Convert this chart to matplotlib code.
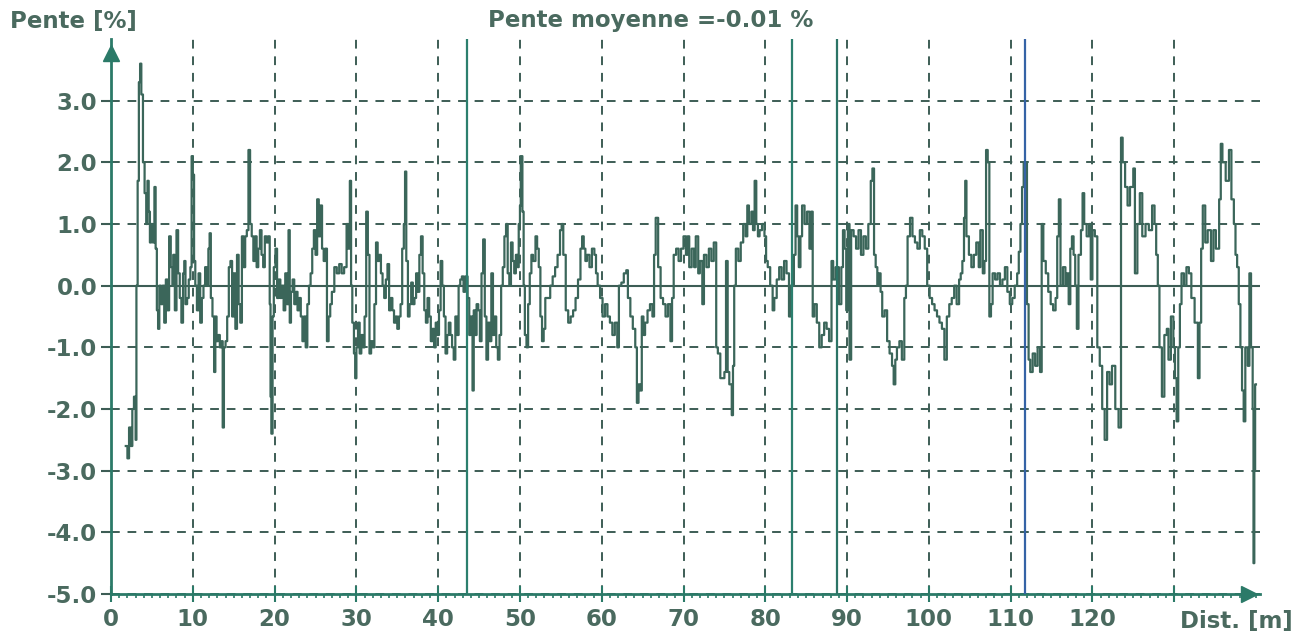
import matplotlib.pyplot as plt
from matplotlib.ticker import FixedLocator, MultipleLocator

# distance [m] and slope [%] (step trace)
dist = [
    1.8, 2.0, 2.2, 2.4, 2.6, 2.8, 3.0, 3.1, 3.25, 3.4, 3.55, 3.7, 3.9, 4.1, 4.3, 4.45, 4.6, 4.75, 4.9,
    5.1, 5.3, 5.45, 5.6, 5.75, 5.9, 6.1, 6.3, 6.5, 6.7, 6.9, 7.1, 7.3, 7.5, 7.6, 7.8, 8.0, 8.2, 8.4,
    8.6, 8.8, 8.95, 9.1, 9.3, 9.5, 9.7, 9.85, 10.0, 10.15, 10.3, 10.5, 10.7, 10.9, 11.1, 11.3, 11.5,
    11.7, 11.9, 12.05, 12.2, 12.4, 12.6, 12.75, 12.9, 13.1, 13.3, 13.5, 13.65, 13.8, 14.0, 14.2, 14.4,
    14.6, 14.8, 15.0, 15.2, 15.4, 15.6, 15.8, 16.0, 16.2, 16.4, 16.6, 16.8, 17.0, 17.2, 17.4, 17.6,
    17.8, 18.0, 18.2, 18.4, 18.6, 18.8, 19.0, 19.2, 19.4, 19.5, 19.6, 19.75, 19.9, 20.1, 20.3, 20.5,
    20.7, 20.9, 21.1, 21.3, 21.5, 21.7, 21.85, 22.0, 22.2, 22.4, 22.6, 22.8, 23.0, 23.2, 23.4, 23.6,
    23.8, 24.0,
    24.2, 24.4, 24.6, 24.8, 25.0, 25.2, 25.4, 25.6, 25.8, 26.0, 26.2, 26.4, 26.6, 26.8, 27.0, 27.3,
    27.6, 27.9, 28.2, 28.5, 28.8, 29.0, 29.2, 29.35, 29.5, 29.7, 29.85, 30.0, 30.2, 30.4, 30.6, 30.8,
    31.0, 31.2, 31.4, 31.6, 31.8, 32.0, 32.2, 32.4, 32.6, 32.8, 33.0, 33.2, 33.4, 33.6, 33.8, 34.0,
    34.2, 34.4, 34.6, 34.8, 35.0, 35.2, 35.4, 35.6, 35.8, 35.95, 36.1, 36.3, 36.5, 36.7, 36.9, 37.1,
    37.3, 37.5, 37.7, 37.9, 38.1, 38.3, 38.5, 38.7, 38.9, 39.1, 39.3, 39.5, 39.7, 39.9, 40.1, 40.3,
    40.5, 40.7, 40.9, 41.1, 41.3, 41.5, 41.7, 41.9, 42.1, 42.3, 42.5, 42.7, 42.9, 43.1, 43.3, 43.6,
    43.8, 44.0, 44.2, 44.35, 44.5, 44.7, 44.9, 45.1, 45.3, 45.5, 45.7, 45.9, 46.1, 46.3, 46.5, 46.7,
    46.9,
    47.1, 47.3, 47.5, 47.7, 47.9, 48.1, 48.3, 48.5, 48.7, 48.9, 49.1, 49.3, 49.5, 49.7, 49.85, 50.0,
    50.1, 50.3, 50.45, 50.6, 50.8, 51.0, 51.2, 51.4, 51.6, 51.9, 52.1, 52.3, 52.5, 52.7, 52.9, 53.1,
    53.4, 53.7, 54.0, 54.3, 54.6, 54.9, 55.1, 55.3, 55.6, 55.9, 56.2, 56.5, 56.8, 57.1, 57.4, 57.6,
    57.8, 58.0, 58.2, 58.5, 58.8, 59.1, 59.3, 59.5, 59.8, 60.1, 60.4, 60.7, 61.0, 61.3, 61.6, 61.9,
    62.1, 62.4, 62.7, 63.0, 63.2, 63.5, 63.8, 64.1, 64.3, 64.5, 64.7, 64.9, 65.1, 65.3, 65.6, 65.9,
    66.2, 66.4, 66.6, 66.9, 67.2, 67.5, 67.8, 68.1, 68.4, 68.6, 68.8, 69.1, 69.4, 69.7, 70.0,
    70.3, 70.5, 70.7, 71.0, 71.3, 71.5, 71.8, 72.0, 72.3, 72.5, 72.8, 73.1, 73.4, 73.7, 74.0, 74.2,
    74.5, 74.8, 75.0, 75.2, 75.4, 75.6, 75.9, 76.05, 76.2, 76.4, 76.7, 77.0, 77.3, 77.6, 77.8, 78.0,
    78.3, 78.5, 78.7, 78.9, 79.1, 79.3, 79.6, 79.9, 80.1, 80.3, 80.6, 80.9, 81.1, 81.4, 81.7, 82.0,
    82.3, 82.6, 82.9, 83.1, 83.5, 83.7, 83.9, 84.1, 84.3, 84.5, 84.8, 85.1, 85.4, 85.6, 85.8, 86.0,
    86.3, 86.6, 86.9, 87.2, 87.5, 87.8, 88.1, 88.3, 88.6, 89.0, 89.3, 89.5, 89.7, 89.9, 90.1, 90.3,
    90.5, 90.8, 91.1, 91.4, 91.7, 92.0, 92.3, 92.6, 92.9, 93.1, 93.3, 93.5, 93.7,
    93.9, 94.1, 94.3, 94.6, 94.9, 95.2, 95.5, 95.7, 95.9, 96.1, 96.4, 96.7, 97.0, 97.2, 97.4, 97.7,
    98.0, 98.3, 98.6, 98.9, 99.2, 99.5, 99.8, 100.1, 100.4, 100.7, 101.0, 101.3, 101.6, 101.9, 102.2,
    102.5, 102.8, 103.1, 103.4, 103.7, 103.9, 104.1, 104.3, 104.45, 104.6, 104.9, 105.2, 105.5, 105.8,
    106.1, 106.3, 106.6, 106.8, 107.0, 107.2, 107.4, 107.6, 107.8, 108.1, 108.4, 108.7, 109.0, 109.3,
    109.6, 109.9, 110.2, 110.5, 110.8, 111.0, 111.2, 111.4, 111.6, 112.0, 112.2, 112.4, 112.7, 113.0,
    113.3, 113.6, 113.8, 114.0, 114.3, 114.6, 114.9, 115.2, 115.5, 115.7, 115.9, 116.1, 116.4,
    116.7, 116.9, 117.1, 117.3, 117.5, 117.7, 117.9, 118.1, 118.3, 118.6, 118.8, 119.0, 119.3, 119.6,
    119.8, 120.0, 120.3, 120.6, 120.9, 121.2, 121.5, 121.8, 122.1, 122.4, 122.8, 123.2, 123.5, 123.7,
    124.0, 124.3, 124.6, 125.0, 125.2, 125.5, 125.8, 126.1, 126.5, 126.9, 127.3, 127.6, 127.8, 128.0,
    128.2, 128.5, 128.8, 129.1, 129.3, 129.6, 129.9, 130.1, 130.3, 130.5, 130.7, 130.9, 131.2, 131.5,
    131.8, 132.1, 132.5, 132.9, 133.1, 133.3, 133.5, 133.8, 134.1, 134.5, 134.8, 135.1, 135.5, 135.7,
    135.9, 136.3, 136.7, 137.0, 137.3, 137.5, 137.7, 137.9, 138.1, 138.3, 138.5, 138.7, 139.0, 139.2,
    139.4, 139.6, 139.7, 139.8, 139.9, 140.0,
]
pente = [
    -2.6, -2.8, -2.3, -2.6, -2.0, -1.8, -2.5, 0.0, 1.7, 3.3, 3.6, 3.1, 2.0, 1.5, 1.0, 1.7, 1.2, 0.7, 1.0,
    0.7, 1.6, 0.6, -0.4, -0.7, 0.0, -0.3, 0.0, -0.6, 0.1, -0.4, 0.8, 0.3, 0.0, 0.5, -0.4, 0.9, 0.2, -0.2,
    -0.6, 0.2, 0.4, -0.3, -0.2, 0.1, 0.3, 2.1, 1.8, 0.4, 0.0, -0.4, 0.2, -0.6, -0.2, 0.0, 0.3,
    0.0, 0.6, 0.85, -0.2, -0.5, -1.4, -0.5, -0.9, -0.8, -1.0, -0.9, -2.3, -1.0, -0.9, -0.5, 0.3,
    0.4, -0.5, 0.2, -0.7, 0.5, -0.3, -0.6, 0.8, 0.3, 0.8, 0.9, 2.2, 1.0, 0.8, 0.4, 0.8,
    0.3, 0.6, 0.9, 0.5, 0.3, 0.8, 0.7, 0.8, -0.3, -1.8, -2.4, -0.5, 0.3, 0.6, -0.2, 0.1,
    -0.2, 0.0, -0.4, 0.2, -0.3, 0.9, -0.6, -0.1, 0.1, -0.3, -0.1, -0.4, -0.2, -0.5, -0.9, -0.5,
    -1.0, -0.3,
    0.0, 0.2, 0.6, 0.9, 0.5, 1.4, 0.8, 1.3, 0.6, 0.4, 0.6, -0.9, -0.5, -0.3, -0.1, 0.3,
    0.2, 0.35, 0.2, 0.3, 1.0, 0.6, 1.7, 0.0, -0.6, -1.1, -1.5, -1.0, -0.6, -1.1, -0.8, -1.0,
    -0.5, 1.2, 0.5, -1.1, -0.9, -1.0, -0.3, 0.7, 0.4, 0.5, 0.2, 0.0, -0.2, 0.1, 0.35, -0.4,
    -0.2, -0.4, -0.6, -0.5, -0.7, -0.5, -0.3, 0.6, 1.0, 1.85, 0.4, -0.5, -0.3, 0.05, -0.3, -0.2,
    0.2, -0.1, 0.5, 0.8, 0.2, -0.4, -0.6, -0.2, -0.5, -0.9, -0.7, -1.0, -0.6, -0.8, -0.4, 0.4,
    0.0, -0.5, -1.1, -0.8, -0.6, -0.8, -1.0, -1.2, -0.5, -0.8, 0.0, 0.1, 0.15, -0.1, 0.15, -0.2,
    -0.8, -0.5, -1.7, -0.4, -0.8, -0.3, -0.4, -0.9, 0.2, 0.75, -0.5, -1.2, -0.6, -0.9, 0.2, -0.8,
    -0.5,
    -1.0, -1.2, -0.8, 0.0, 0.3, 0.8, 1.0, 0.2, 0.0, 0.7, 0.4, 0.2, 0.5, 0.3, 1.0, 1.3,
    2.1, 1.2, 0.0, -0.8, -1.0, -0.3, 0.2, 0.5, 0.4, 0.8, 0.6, 0.3, -0.5, -0.9, -0.7, -0.2,
    -0.2, 0.0, 0.15, 0.3, 0.5, 0.9, 1.0, 0.5, -0.4, -0.6, -0.5, -0.4, -0.2, 0.1, 0.6, 0.8,
    0.6, 0.4, 0.5, 0.3, 0.6, 0.5, 0.2, 0.0, -0.2, -0.5, -0.3, -0.5, -0.6, -0.8, -0.6, -1.0,
    0.0, 0.05, 0.2, 0.25, -0.2, -0.5, -0.7, -1.0, -1.9, -1.6, -1.7, -0.5, -0.8, -0.6, -0.4, -0.3,
    -0.5, 0.5, 1.1, 0.3, -0.2, -0.3, -0.5, -0.3, -0.9, -0.2, 0.5, 0.6, 0.4, 0.6, 0.8,
    0.5, 0.8, 0.3, 0.6, 0.3, 0.8, 0.2, 0.4, -0.3, 0.5, 0.3, 0.6, 0.4, 0.7, -1.0, -1.1,
    -1.5, -1.5, -1.4, 0.4, -1.4, -1.6, -2.1, -1.3, 0.0, 0.6, 0.4, 0.7, 1.0, 0.8, 1.3, 1.0,
    1.2, 0.9, 1.7, 1.0, 0.8, 0.9, 1.0, 0.8, 0.4, 0.3, 0.0, -0.4, -0.2, 0.1, 0.3, 0.1,
    0.4, 0.2, -0.5, 0.0, 0.5, 1.3, 0.8, 0.3, 0.8, 1.3, 1.0, 1.2, 0.6, 1.2, -0.5, -0.3,
    -0.6, -1.0, -0.8, -0.6, -0.7, -0.9, 0.4, 0.1, 0.3, -0.3, 0.3, 0.9, 0.6, -0.4, 1.0, -1.2,
    0.9, 0.8, 0.6, 0.9, 0.5, 0.8, 0.6, 1.0, 1.7, 1.9, 0.5, 0.3, 0.0,
    0.2, -0.1, -0.5, -0.4, -0.9, -1.1, -1.3, -1.6, -1.2, -1.0, -0.9, -1.2, -0.2, 0.0, 0.8, 1.1,
    0.8, 0.7, 0.6, 0.9, 0.8, 0.6, 0.0, -0.2, -0.3, -0.4, -0.5, -0.6, -0.7, -1.2, -0.5,
    -0.3, -0.2, 0.0, -0.3, 0.1, 0.2, 0.4, 1.1, 1.7, 0.8, 0.5, 0.3, 0.5, 0.7,
    0.3, 0.9, 0.2, 0.4, 2.2, 2.0, -0.5, -0.3, 0.2, 0.1, 0.2, 0.0, 0.1, 0.3,
    -0.1, -0.3, -0.2, 0.0, 0.2, 0.55, 1.0, 1.6, 2.0, -0.3, -1.2, -1.4, -1.1, -1.3,
    -1.0, -1.4, 1.0, 0.4, 0.2, -0.1, -0.3, -0.4, -0.2, 0.8, 1.4, 0.0, 0.3,
    0.0, 0.2, -0.3, 0.6, 0.8, 0.5, 0.0, -0.7, 0.5, 0.9, 1.5, 1.0, 0.8, 1.0,
    0.1, 0.9, 0.8, -1.0, -1.3, -2.0, -2.5, -1.4, -1.6, -1.3, -2.0, -2.3, 2.4, 2.0,
    1.6, 1.3, 1.6, 1.9, 0.2, 1.0, 1.5, 0.8, 1.0, 0.9, 1.3, 1.0, 0.5, 0.0,
    -1.0, -1.8, -0.8, -0.7, -1.2, -0.5, -1.0, -1.5, -2.2, -1.0, -0.3, 0.2, 0.0, 0.3,
    0.2, -0.2, -0.6, -1.5, -0.6, 0.6, 1.3, 0.7, 0.9, 0.4, 0.9, 0.6, 1.4, 2.3,
    2.0, 1.7, 2.2, 1.4, 1.0, 0.5, 0.3, -0.3, -1.0, -1.7, -2.2, -1.0, -1.3, 0.2,
    -1.0, -2.0, -4.5, -3.0, -1.6, -1.6,
]

# full-height dropouts in the record
coupures = [43.5, 83.3, 88.8, 111.8]
coupure_colors = ['#2c7f6e', '#2c7f6e', '#2c7466', '#3563a6']

x_ticks = [0, 10, 20, 30, 40, 50, 60, 70, 80, 90, 100, 110, 120, 130]
x_labels = ['0', '10', '20', '30', '40', '50', '60', '70', '80', '90', '100', '110', '120', '']
y_ticks = [-5, -4, -3, -2, -1, 0, 1, 2, 3]
y_labels = ['-5.0', '-4.0', '-3.0', '-2.0', '-1.0', '0.0', '1.0', '2.0', '3.0']

txt_color = '#4a6a5f'
axis_color = '#2b7a68'
grid_color = '#3d5d55'
trace_color = '#3b665a'
font = dict(family='DejaVu Sans', weight='bold', size=16.5, color=txt_color)

fig = plt.figure(figsize=(12.99, 6.39), dpi=100)
ax = fig.add_axes([0.0855, 0.0704, 0.8845, 0.8686])
ax.set_xlim(0, 140.5)
ax.set_ylim(-5, 4)

ax.step(dist, pente, where='post', color=trace_color, lw=1.6, zorder=3)
ax.vlines(coupures, -5, 4, colors=coupure_colors, lw=1.6, zorder=3)
ax.axhline(0, color=grid_color, lw=1.5, zorder=2)

ax.xaxis.set_major_locator(FixedLocator(x_ticks))
ax.xaxis.set_minor_locator(MultipleLocator(1))
ax.set_xticklabels(x_labels, fontdict=font)
ax.yaxis.set_major_locator(FixedLocator(y_ticks))
ax.set_yticklabels(y_labels, fontdict=font)

ax.grid(True, which='major', color=grid_color, lw=1.4, linestyle=(0, (4.5, 4)))
ax.tick_params(axis='x', which='major', direction='inout', length=12, width=1.5, color=axis_color, pad=4)
ax.tick_params(axis='x', which='minor', direction='out', length=3, width=1.2, color=axis_color)
ax.tick_params(axis='y', which='major', direction='out', length=7, width=1.5, color=grid_color, pad=3)

for side in ['top', 'right']:
    ax.spines[side].set_visible(False)
for side in ['left', 'bottom']:
    ax.spines[side].set_color(axis_color)
    ax.spines[side].set_linewidth(2)

# arrow heads on the axes
ax.plot([0], [0.975], marker='^', ms=11, color=axis_color, transform=ax.transAxes, clip_on=False)
ax.plot([0.99], [0], marker='>', ms=11, color=axis_color, transform=ax.transAxes, clip_on=False)

fig.text(0.008, 0.966, 'Pente [%]', ha='left', va='center', **font)
fig.text(0.501, 0.968, 'Pente moyenne =%.2f %%' % -0.01, ha='center', va='center', **font)
fig.text(0.952, 0.027, 'Dist. [m]', ha='center', va='center', **font)

fig.savefig('out.png', dpi=100, facecolor='white')
